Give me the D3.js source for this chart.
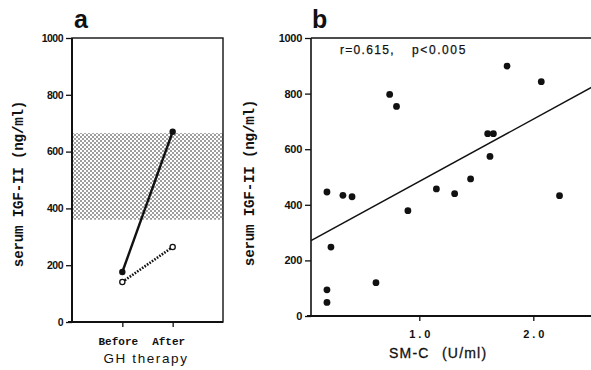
<!DOCTYPE html>
<html>
<head>
<meta charset="utf-8">
<script src="https://cdn.jsdelivr.net/npm/d3@7"></script>
<style>
  html, body { margin: 0; padding: 0; background: #fff; }
  svg { display: block; }
  .tick text { font-family: "Liberation Sans", Arial, sans-serif; font-weight: bold; fill: #111; }
</style>
</head>
<body>
<svg id="chart" width="591" height="370"></svg>
<script>
// Panel a: IGF-II before and after GH therapy
const phaseLabels = ["Before", "After"];
const treatedIGF2 = [176, 670];     // solid line, filled dots
const untreatedIGF2 = [141, 264];   // dotted line, open dots
const normalRange = [360, 665];     // shaded normal band
const yTicks = [0, 200, 400, 600, 800, 1000];

// Panel b: IGF-II vs SM-C
const smcValues  = [0.19, 0.33, 0.41, 0.225, 0.19, 0.19, 0.62, 0.74, 0.80, 0.90, 1.15, 1.31, 1.45, 1.60, 1.65, 1.62, 1.77, 2.07, 2.23];
const igf2Values = [446, 434, 429, 248, 94, 49, 120, 797, 754, 379, 457, 440, 493, 656, 656, 574, 899, 843, 433];
const xTicksB = [1.0, 2.0];
const fitIntercept = 260;
const fitSlope = 224;
const statsText = ["r=0.615,", "p<0.005"];

const svg = d3.select("#chart");
const ink = "#111";

// dotted fill for the normal range
const defs = svg.append("defs");
const pat = defs.append("pattern")
  .attr("id", "dots").attr("patternUnits", "userSpaceOnUse")
  .attr("width", 4).attr("height", 4);
pat.append("rect").attr("width", 4).attr("height", 4).attr("fill", "#fff");
pat.append("circle").attr("cx", 1).attr("cy", 1).attr("r", 0.8).attr("fill", "#222");
pat.append("circle").attr("cx", 3).attr("cy", 3).attr("r", 0.8).attr("fill", "#222");

function styleAxis(g, size) {
  g.select(".domain").remove();
  g.selectAll(".tick line").attr("stroke", ink).attr("stroke-width", 1.3);
  g.selectAll(".tick text").attr("font-size", size);
}

/* ---------- panel a ---------- */
const ax = d3.scaleLinear().domain([0, 3]).range([72, 223]);
const ay = d3.scaleLinear().domain([0, 1000]).range([322, 38]);

const ga = svg.append("g");

ga.append("rect")
  .attr("x", ax(0)).attr("width", ax(3) - ax(0))
  .attr("y", ay(normalRange[1])).attr("height", ay(normalRange[0]) - ay(normalRange[1]))
  .attr("fill", "url(#dots)");

// frame
ga.append("rect")
  .attr("x", ax(0)).attr("y", ay(1000))
  .attr("width", ax(3) - ax(0)).attr("height", ay(0) - ay(1000))
  .attr("fill", "none").attr("stroke", ink).attr("stroke-width", 1.4);
ga.append("line").attr("x1", ax(0)).attr("x2", ax(0)).attr("y1", ay(1000)).attr("y2", ay(0))
  .attr("stroke", ink).attr("stroke-width", 2);
ga.append("line").attr("x1", ax(0) - 4).attr("x2", ax(3)).attr("y1", ay(0)).attr("y2", ay(0))
  .attr("stroke", ink).attr("stroke-width", 1.8);

ga.append("g").attr("transform", `translate(${ax(0)},0)`)
  .call(d3.axisLeft(ay).tickValues(yTicks).tickSize(6).tickPadding(3).tickFormat(d3.format("d")))
  .call(g => styleAxis(g, 10.5))
  .call(g => g.selectAll(".tick text").attr("letter-spacing", -0.5));

ga.append("g").attr("transform", `translate(0,${ay(0)})`)
  .call(d3.axisBottom(ax).tickValues([1, 2]).tickSize(5).tickFormat(""))
  .call(g => styleAxis(g, 9));

ga.selectAll("text.phase").data(phaseLabels).join("text")
  .attr("class", "phase")
  .attr("x", (d, i) => ax(i + 1) - 4).attr("y", 345)
  .attr("text-anchor", "middle")
  .attr("font-family", "Liberation Mono, Courier New, monospace")
  .attr("font-weight", "bold").attr("font-size", 11)
  .attr("fill", ink).text(d => d);

ga.append("text").attr("x", 146).attr("y", 363).attr("text-anchor", "middle")
  .attr("font-family", "Liberation Sans, Arial, sans-serif").attr("font-size", 13.5)
  .attr("letter-spacing", 1.6).attr("fill", ink).text("GH therapy");

// the two patients' series
const aLine = d3.line().x((d, i) => ax(i + 1)).y(d => ay(d));
ga.append("path").attr("d", aLine(untreatedIGF2))
  .attr("fill", "none").attr("stroke", ink).attr("stroke-width", 2.6)
  .attr("stroke-dasharray", "1.6,1.4");
ga.append("path").attr("d", aLine(treatedIGF2))
  .attr("fill", "none").attr("stroke", ink).attr("stroke-width", 2.4);
ga.selectAll("circle.tr").data(treatedIGF2).join("circle")
  .attr("class", "tr").attr("cx", (d, i) => ax(i + 1)).attr("cy", d => ay(d))
  .attr("r", 3.2).attr("fill", ink);
ga.selectAll("circle.un").data(untreatedIGF2).join("circle")
  .attr("class", "un").attr("cx", (d, i) => ax(i + 1)).attr("cy", d => ay(d))
  .attr("r", 2.6).attr("fill", "#fff").attr("stroke", ink).attr("stroke-width", 1.3);

ga.append("text")
  .attr("transform", `translate(18,184) rotate(-90)`).attr("x", 0).attr("y", 5)
  .attr("text-anchor", "middle")
  .attr("font-family", "Liberation Mono, Courier New, monospace")
  .attr("font-weight", "bold").attr("font-size", 14.2).attr("letter-spacing", -0.2)
  .attr("fill", ink).text("serum IGF-II (ng/ml)");

ga.append("text").attr("x", 74).attr("y", 28)
  .attr("font-family", "Liberation Sans, Arial, sans-serif").attr("font-weight", "bold")
  .attr("font-size", 25).attr("fill", ink).text("a");

/* ---------- panel b ---------- */
const bx = d3.scaleLinear().domain([0.05, 2.55]).range([311, 596]);
const by = d3.scaleLinear().domain([0, 1000]).range([316, 38]);

const gb = svg.append("g");

gb.append("line").attr("x1", bx(0.05)).attr("x2", 591).attr("y1", by(1000)).attr("y2", by(1000))
  .attr("stroke", ink).attr("stroke-width", 1.6);
gb.append("line").attr("x1", bx(0.05)).attr("x2", bx(0.05)).attr("y1", by(1000)).attr("y2", by(0))
  .attr("stroke", ink).attr("stroke-width", 1.6);
gb.append("line").attr("x1", bx(0.05) - 4).attr("x2", 591).attr("y1", by(0)).attr("y2", by(0))
  .attr("stroke", ink).attr("stroke-width", 1.8);

gb.append("g").attr("transform", `translate(${bx(0.05)},0)`)
  .call(d3.axisLeft(by).tickValues(yTicks).tickSize(6).tickPadding(3).tickFormat(d3.format("d")))
  .call(g => styleAxis(g, 11))
  .call(g => g.selectAll(".tick text").attr("letter-spacing", -0.3));

gb.append("g").attr("transform", `translate(0,${by(0)})`)
  .call(d3.axisBottom(bx).tickValues(xTicksB).tickSize(5).tickPadding(9).tickFormat(d3.format(".1f")))
  .call(g => styleAxis(g, 11))
  .call(g => g.selectAll(".tick text").attr("letter-spacing", 3).attr("dx", 1.5));

// regression line
const fitX = bx.domain();
gb.append("line")
  .attr("x1", bx(fitX[0])).attr("y1", by(fitIntercept + fitSlope * fitX[0]))
  .attr("x2", bx(fitX[1])).attr("y2", by(fitIntercept + fitSlope * fitX[1]))
  .attr("stroke", ink).attr("stroke-width", 1.5);

gb.selectAll("circle.pt").data(smcValues).join("circle")
  .attr("class", "pt").attr("cx", d => bx(d)).attr("cy", (d, i) => by(igf2Values[i]))
  .attr("r", 3.4).attr("fill", ink);

gb.append("text").attr("x", 340).attr("y", 54)
  .attr("font-family", "Liberation Sans, Arial, sans-serif").attr("font-size", 12)
  .attr("letter-spacing", 1.3).attr("fill", ink).attr("stroke", ink).attr("stroke-width", 0.25)
  .text(statsText[0]);
gb.append("text").attr("x", 412).attr("y", 54)
  .attr("font-family", "Liberation Sans, Arial, sans-serif").attr("font-size", 12)
  .attr("letter-spacing", 1.6).attr("fill", ink).attr("stroke", ink).attr("stroke-width", 0.25)
  .text(statsText[1]);

gb.append("text")
  .attr("transform", `translate(249,183) rotate(-90)`).attr("x", 0).attr("y", 5)
  .attr("text-anchor", "middle")
  .attr("font-family", "Liberation Mono, Courier New, monospace")
  .attr("font-weight", "bold").attr("font-size", 14.2).attr("letter-spacing", -0.2)
  .attr("fill", ink).text("serum IGF-II (ng/ml)");

gb.append("text").attr("x", 389).attr("y", 358)
  .attr("font-family", "Liberation Sans, Arial, sans-serif").attr("font-size", 14)
  .attr("letter-spacing", 1.2).attr("fill", ink).attr("stroke", ink).attr("stroke-width", 0.3)
  .text("SM-C");
gb.append("text").attr("x", 442).attr("y", 358)
  .attr("font-family", "Liberation Sans, Arial, sans-serif").attr("font-size", 14)
  .attr("letter-spacing", 1.2).attr("fill", ink).attr("stroke", ink).attr("stroke-width", 0.3)
  .text("(U/ml)");

gb.append("text").attr("x", 312).attr("y", 28)
  .attr("font-family", "Liberation Sans, Arial, sans-serif").attr("font-weight", "bold")
  .attr("font-size", 25).attr("fill", ink).text("b");
</script>
</body>
</html>
